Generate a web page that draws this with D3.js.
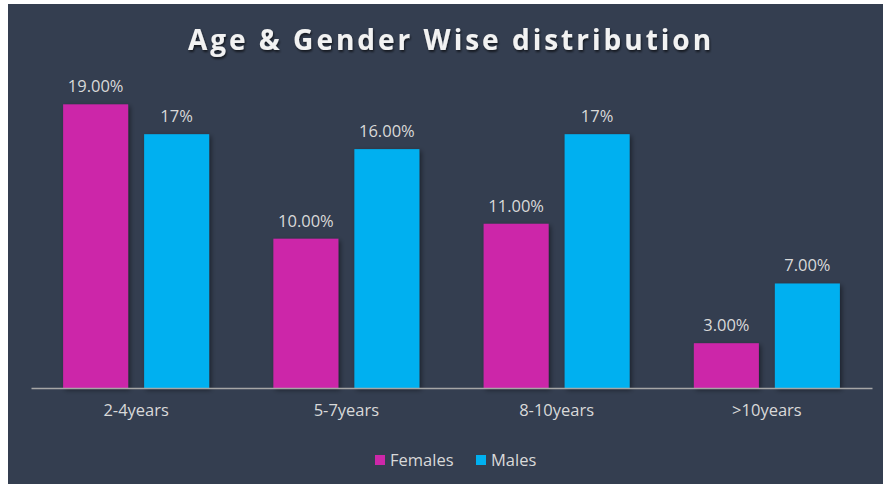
<!DOCTYPE html>
<html>
<head>
<meta charset="utf-8">
<title>Age & Gender Wise distribution</title>
<script src="https://cdn.jsdelivr.net/npm/d3@7"></script>
<style>
  body { margin: 0; background: #ffffff; }
  svg text { font-family: "Open Sans", "Lato", sans-serif; }
</style>
</head>
<body>
<div id="chart"></div>
<script>
// data
var categories = ["2-4years", "5-7years", "8-10years", ">10years"];
var series = ["Females", "Males"];
var females = [19, 10, 11, 3];
var males = [17, 16, 17, 7];
var femaleLabels = ["19.00%", "10.00%", "11.00%", "3.00%"];
var maleLabels = ["17%", "16.00%", "17%", "7.00%"];

var width = 883, height = 484;
var colors = { Females: "#cc27a9", Males: "#00b0f0" };

var svg = d3.select("#chart").append("svg")
    .attr("width", width)
    .attr("height", height);

// drop shadow for the bars
var defs = svg.append("defs");
var f = defs.append("filter").attr("id", "shadow")
    .attr("x", "-20%").attr("y", "-20%").attr("width", "150%").attr("height", "150%");
f.append("feDropShadow").attr("dx", 2).attr("dy", 2).attr("stdDeviation", 2.5)
    .attr("flood-color", "#000").attr("flood-opacity", 0.45);
var tf = defs.append("filter").attr("id", "tshadow");
tf.append("feDropShadow").attr("dx", 1).attr("dy", 2).attr("stdDeviation", 1.2)
    .attr("flood-color", "#000").attr("flood-opacity", 0.6);

// panel
svg.append("rect")
    .attr("x", 8).attr("y", 4)
    .attr("width", width - 8).attr("height", height - 4)
    .attr("fill", "#343e50");

var left = 31, right = 872, base = 388;

var x = d3.scaleBand().domain(categories).range([left, right]);
var xs = d3.scaleBand().domain(series).range([0, 146]).paddingInner(0.1975);
var y = d3.scaleLinear().domain([0, 20]).range([base, base - 298.6]);

svg.append("text")
    .attr("x", 451).attr("y", 50)
    .attr("text-anchor", "middle")
    .attr("fill", "#f2f2f2")
    .attr("font-size", 28).attr("font-weight", "bold")
    .attr("letter-spacing", 3)
    .attr("filter", "url(#tshadow)")
    .text("Age & Gender Wise distribution");

var rows = categories.map(function(c, i) {
    return [
        { cat: c, s: "Females", v: females[i], label: femaleLabels[i] },
        { cat: c, s: "Males", v: males[i], label: maleLabels[i] }
    ];
});

var groups = svg.selectAll("g.grp")
    .data(rows)
    .enter().append("g")
    .attr("class", "grp")
    .attr("transform", function(d) {
        return "translate(" + (x(d[0].cat) + x.bandwidth() / 2 - 73) + ",0)";
    });

groups.selectAll("rect")
    .data(function(d) { return d; })
    .enter().append("rect")
    .attr("x", function(d) { return xs(d.s); })
    .attr("y", function(d) { return y(d.v); })
    .attr("width", xs.bandwidth())
    .attr("height", function(d) { return base - y(d.v); })
    .attr("fill", function(d) { return colors[d.s]; })
    .attr("filter", "url(#shadow)");

groups.selectAll("text")
    .data(function(d) { return d; })
    .enter().append("text")
    .attr("x", function(d) { return xs(d.s) + xs.bandwidth() / 2; })
    .attr("y", function(d) { return y(d.v) - 12; })
    .attr("text-anchor", "middle")
    .attr("fill", "#d9d9d9")
    .attr("font-size", 16.5)
    .text(function(d) { return d.label; });

// x axis
var xAxis = svg.append("g")
    .attr("transform", "translate(0," + base + ")")
    .call(d3.axisBottom(x).tickSize(0).tickPadding(16));
xAxis.select(".domain").attr("stroke", "#a6a6a6").attr("stroke-width", 1.5);
xAxis.selectAll("text")
    .attr("fill", "#d9d9d9")
    .attr("font-size", 16.5)
    .attr("font-family", "Open Sans, Lato, sans-serif");

// legend
var legend = svg.append("g").attr("transform", "translate(375,460)");
var lx = [0, 101];
series.forEach(function(s, i) {
    legend.append("rect")
        .attr("x", lx[i]).attr("y", -5)
        .attr("width", 10).attr("height", 10)
        .attr("fill", colors[s]);
    legend.append("text")
        .attr("x", lx[i] + 15).attr("y", 6)
        .attr("fill", "#d9d9d9")
        .attr("font-size", 16.5)
        .text(s);
});
</script>
</body>
</html>
